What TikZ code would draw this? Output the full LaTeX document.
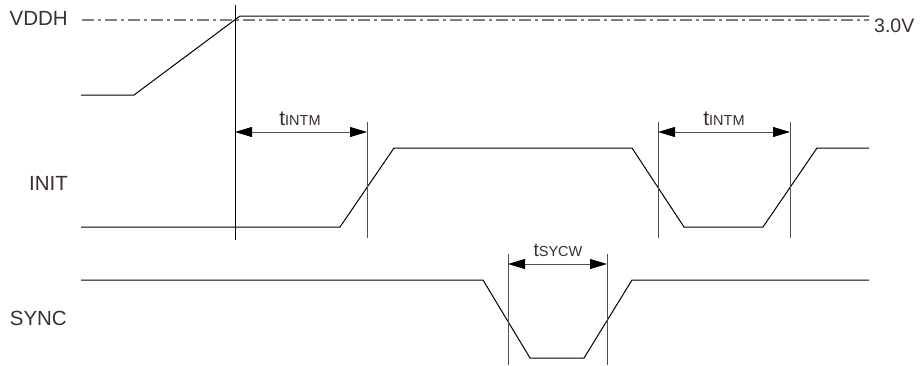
\documentclass[tikz,border=0pt]{standalone}
\usepackage{fontspec}
\setmainfont{Liberation Sans}
\usetikzlibrary{arrows.meta}
\definecolor{txt}{RGB}{58,46,52}
\definecolor{dim}{RGB}{80,80,80}
\definecolor{ref}{RGB}{128,128,128}
\tikzset{
  wave/.style={line width=1pt, black, line join=miter},
  vline/.style={line width=0.9pt, black},
  dimline/.style={line width=0.9pt, dim},
  dimarrow/.style={line width=0.9pt, dim, {Triangle[length=17pt,width=10pt,color=black]}-{Triangle[length=17pt,width=10pt,color=black]}},
  sig/.style={text=txt, font=\fontsize{20.5}{22}\selectfont, inner sep=0pt, anchor=base east},
  tlab/.style={text=txt, inner sep=0pt, anchor=base}
}
\begin{document}
\begin{tikzpicture}[x=1pt,y=-1pt]
\useasboundingbox (0,0) rectangle (921,365);
% labels
\node[sig] (lvddh) at (68,25) {VDDH};
\node[sig] (linit) at (68,190) {INIT};
\node[sig] (lsync) at (67,325) {SYNC};
\node[text=txt, font=\fontsize{19.5}{21}\selectfont, inner sep=0pt, anchor=base west] (l30) at (874,32) {3.0V};
% reference dash-dot
\coordinate (r0) at (82,20);
\coordinate (r1) at (869,20);
\draw[ref, line width=1.2pt, dash pattern=on 12pt off 4pt on 3pt off 4pt] (r0) -- (r1);
% VDDH
\coordinate (v0) at (81,95);
\coordinate (v1) at (134,95);
\coordinate (v2) at (240,16);
\coordinate (v3) at (869,16);
\draw[wave] (v0) -- (v1) -- (v2) -- (v3);
% INIT
\coordinate (i0) at (81,227);
\coordinate (i1) at (340,227);
\coordinate (i2) at (394,148);
\coordinate (i3) at (632,148);
\coordinate (i4) at (684,227);
\coordinate (i5) at (763,227);
\coordinate (i6) at (817,148);
\coordinate (i7) at (869,148);
\draw[wave] (i0) -- (i1) -- (i2) -- (i3) -- (i4) -- (i5) -- (i6) -- (i7);
% SYNC
\coordinate (s0) at (81,280);
\coordinate (s1) at (483,280);
\coordinate (s2) at (530,358);
\coordinate (s3) at (584,358);
\coordinate (s4) at (632,280);
\coordinate (s5) at (869,280);
\draw[wave] (s0) -- (s1) -- (s2) -- (s3) -- (s4) -- (s5);
% vertical lines
\coordinate (a0t) at (235,5);   \coordinate (a0b) at (235,240);
\coordinate (a1t) at (367,122); \coordinate (a1b) at (367,238);
\coordinate (b0t) at (658,122); \coordinate (b0b) at (658,238);
\coordinate (b1t) at (790,122); \coordinate (b1b) at (790,238);
\coordinate (c0t) at (508,254); \coordinate (c0b) at (508,365);
\coordinate (c1t) at (607,254); \coordinate (c1b) at (607,365);
\draw[vline] (a0t) -- (a0b);
\draw[dimline] (a1t) -- (a1b);
\draw[dimline] (b0t) -- (b0b);
\draw[dimline] (b1t) -- (b1b);
\draw[dimline] (c0t) -- (c0b);
\draw[dimline] (c1t) -- (c1b);
% dimension arrows
\coordinate (da0) at (235,132); \coordinate (da1) at (367,132);
\coordinate (db0) at (658,132); \coordinate (db1) at (790,132);
\coordinate (dc0) at (508,264); \coordinate (dc1) at (607,264);
\draw[dimarrow] (da0) -- (da1);
\draw[dimarrow] (db0) -- (db1);
\draw[dimarrow] (dc0) -- (dc1);
\node[tlab] (t1) at (300,125) {\fontsize{21}{22}\selectfont t\fontsize{14.5}{16}\selectfont INTM};
\node[tlab] (t2) at (724,125) {\fontsize{21}{22}\selectfont t\fontsize{14.5}{16}\selectfont INTM};
\node[tlab] (t3) at (558,256) {\fontsize{19}{20}\selectfont t\fontsize{14.5}{16}\selectfont SYCW};
\end{tikzpicture}
\end{document}
